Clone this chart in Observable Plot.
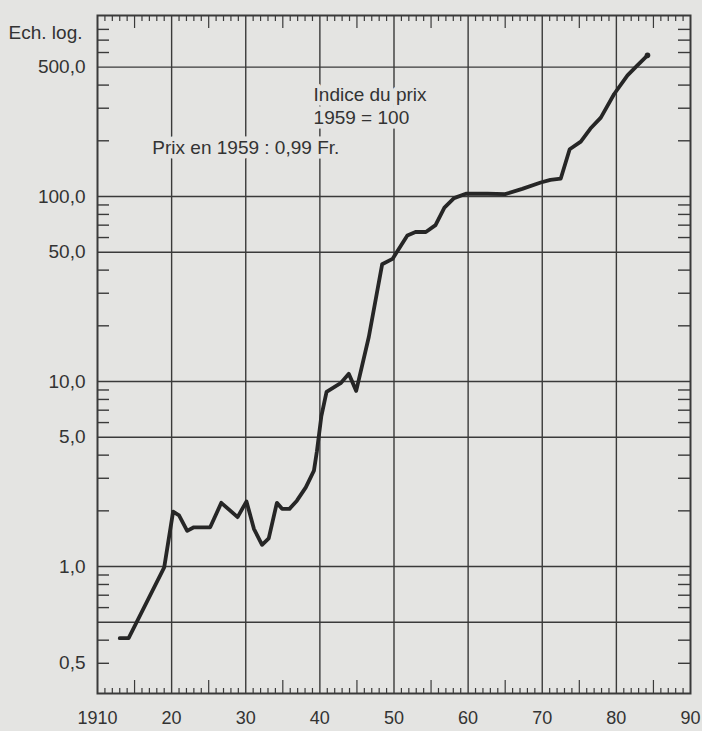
<!DOCTYPE html>
<html>
<head>
<meta charset="utf-8">
<script src="https://cdn.jsdelivr.net/npm/d3@7"></script>
<script src="https://cdn.jsdelivr.net/npm/@observablehq/plot@0.6"></script>
<style>
  html, body { margin: 0; padding: 0; background: #e4e4e2; }
  #chart { width: 702px; height: 731px; }
</style>
</head>
<body>
<div id="chart"></div>
<script>
// Price index (1959 = 100), log scale
const years = [1913, 1914.2, 1919, 1920.2, 1921, 1922.1, 1923, 1925.2, 1926.7, 1928.9,
  1930.1, 1931.1, 1932.2, 1933.1, 1934.2, 1934.9, 1935.9, 1936.9, 1938.1, 1939.2,
  1939.6, 1940.2, 1940.9, 1942.8, 1943.9, 1944.9, 1946.6, 1948.4, 1949.8, 1951.8,
  1952.9, 1954.3, 1955.6, 1956.8, 1958.1, 1959.7, 1962.6, 1965, 1967.3, 1969.8,
  1971.1, 1972.5, 1973.7, 1975.2, 1976.5, 1977.9, 1979.7, 1981.5, 1982.8, 1984.2];
const values = [0.41, 0.41, 0.99, 1.98, 1.89, 1.56, 1.63, 1.63, 2.21, 1.85,
  2.25, 1.6, 1.31, 1.42, 2.21, 2.05, 2.05, 2.27, 2.68, 3.3,
  4.2, 6.5, 8.8, 9.8, 11.0, 8.9, 17.4, 43, 46, 61.6,
  64.3, 64.3, 70, 87, 98, 103.5, 103.5, 103, 110, 119,
  123, 125, 180, 198, 233, 267, 358, 451, 510, 579];

const xTickValues = [1910, 1920, 1930, 1940, 1950, 1960, 1970, 1980, 1990];
const xTickLabels = ["1910", "20", "30", "40", "50", "60", "70", "80", "90"];
const yGridValues = [0.5, 1, 5, 10, 50, 100, 500];
const yLabelValues = [500, 100, 50, 10, 5, 1, 0.3];
const yLabelTexts = ["500,0", "100,0", "50,0", "10,0", "5,0", "1,0", "0,5"];
const yMinorTicks = [0.3, 0.4, 0.6, 0.7, 0.8, 0.9, 2, 3, 4, 6, 7, 8, 9,
  20, 30, 40, 60, 70, 80, 90, 200, 300, 400, 600, 700, 800];
const annotations = [
  {x: 1917.4, y: 184, text: "Prix en 1959 : 0,99 Fr."},
  {x: 1939.15, y: 352, text: "Indice du prix"},
  {x: 1939.15, y: 267, text: "1959 = 100"}
];

const data = years.map((yr, i) => ({year: yr, value: values[i]}));
const lastPoint = [data[data.length - 1]];

const allYears = d3.range(1911, 1990).filter(y => y % 10 !== 0);
const shortYears = allYears.filter(y => y % 5 !== 0);
const midYears = allYears.filter(y => y % 5 === 0);

const W = 702, H = 731;
const mt = 15, mr = 12, mb = 38, ml = 97;
const fh = H - mt - mb, fw = W - ml - mr;
const bg = "#e4e4e2";
const ink = "#3a3a3a";
const font = "Liberation Sans, Arial, Helvetica, sans-serif";
const fs = 19;

const chart = Plot.plot({
  width: W, height: H,
  marginTop: mt, marginRight: mr, marginBottom: mb, marginLeft: ml,
  style: {background: bg, fontFamily: font, color: "#333"},
  x: {domain: [1910, 1990], axis: null},
  y: {type: "log", domain: [0.206, 951], axis: null},
  marks: [
    // grid
    Plot.ruleY(yGridValues, {stroke: ink, strokeWidth: 1.4}),
    Plot.ruleX(xTickValues.slice(1, -1), {stroke: ink, strokeWidth: 1.4}),
    // annotations with paper halo (break the grid)
    Plot.text(annotations, {x: "x", y: "y", text: "text", textAnchor: "start", lineAnchor: "middle",
      fontSize: fs, fill: "#333", stroke: bg, strokeWidth: 9}),
    // minor ticks x, bottom & top
    Plot.tickX(shortYears, {x: d => d, insetTop: fh - 5, stroke: ink, strokeWidth: 1.2}),
    Plot.tickX(midYears, {x: d => d, insetTop: fh - 13, stroke: ink, strokeWidth: 1.2}),
    Plot.tickX(shortYears, {x: d => d, insetBottom: fh - 6, stroke: ink, strokeWidth: 1.2}),
    Plot.tickX(midYears, {x: d => d, insetBottom: fh - 13, stroke: ink, strokeWidth: 1.2}),
    // minor ticks y, left & right
    Plot.tickY(yMinorTicks, {y: d => d, insetRight: fw - 12, stroke: ink, strokeWidth: 1.4}),
    Plot.tickY(yMinorTicks, {y: d => d, insetLeft: fw - 12, stroke: ink, strokeWidth: 1.4}),
    // frame
    Plot.frame({stroke: ink, strokeWidth: 2}),
    // data line
    Plot.line(data, {x: "year", y: "value", stroke: "#262626", strokeWidth: 3.8,
      strokeLinejoin: "round", strokeLinecap: "round"}),
    Plot.dot(lastPoint, {x: "year", y: "value", r: 2.8, fill: "#262626"}),
    // y labels
    Plot.text(yLabelValues, {x: 1910, y: d => d, text: (d, i) => yLabelTexts[i],
      textAnchor: "end", lineAnchor: "middle", dx: -12, fontSize: fs, fill: "#333"}),
    // x labels
    Plot.text(xTickValues, {x: d => d, frameAnchor: "bottom", text: (d, i) => xTickLabels[i],
      textAnchor: "middle", lineAnchor: "middle", dy: 25, fontSize: 18, fill: "#333"}),
    // axis title
    Plot.text(["Ech. log."], {frameAnchor: "top-left", text: d => d, textAnchor: "end",
      lineAnchor: "middle", dx: -15, dy: 17, fontSize: fs, fill: "#333"})
  ]
});
document.getElementById("chart").appendChild(chart);
</script>
</body>
</html>
